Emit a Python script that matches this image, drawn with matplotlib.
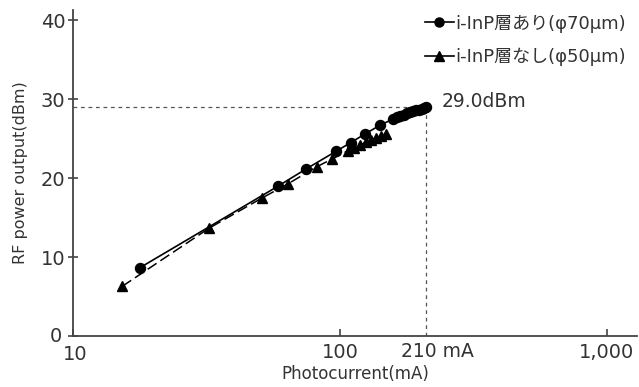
import matplotlib
matplotlib.use("Agg")
import matplotlib.pyplot as plt
import matplotlib.transforms as mtransforms
from matplotlib.lines import Line2D

plt.rcParams['font.family'] = ['DejaVu Sans', 'Noto Sans CJK JP']

# Data
with_x = [17.8, 58.4, 74.9, 96.6, 109.6, 124, 141, 158, 163, 168, 173, 178, 183, 188, 193, 198, 203, 207, 210]
with_y = [8.65, 18.96, 21.2, 23.4, 24.5, 25.6, 26.7, 27.5, 27.7, 27.9, 28.05, 28.2, 28.35, 28.5, 28.6, 28.7, 28.8, 28.9, 29.0]
without_x = [15.3, 32.3, 51.1, 64, 81.8, 93.1, 107.4, 113, 119, 125, 131, 137, 143, 149]
without_y = [6.3, 13.65, 17.5, 19.3, 21.45, 22.4, 23.5, 23.85, 24.2, 24.55, 24.85, 25.15, 25.4, 25.65]
label_with = "i-InP層あり(φ70μm)"
label_without = "i-InP層なし(φ50μm)"
peak_current = 210
peak_power = 29.0
x_ticks = [10, 100, 1000]
x_ticklabels = ["10", "100", "1,000"]
y_ticks = [0, 10, 20, 30, 40]

text_c = '#333333'
spine_c = '#444444'

fig = plt.figure(figsize=(6.39, 3.87), dpi=100)
ax = fig.add_axes([0.1142, 0.1318, 0.8826, 0.842])

ax.plot(with_x, with_y, color='black', lw=1.2, marker='o', ms=7.2, zorder=3)
ax.plot(without_x, without_y, color='black', lw=1.1, ls=(0, (7, 3)), marker='^', ms=7, zorder=3)

ax.plot([10, peak_current], [peak_power, peak_power], color='#555555', lw=0.9, ls=(0, (3, 3)), zorder=1)
ax.plot([peak_current, peak_current], [0, peak_power], color='#555555', lw=0.9, ls=(0, (3, 3)), zorder=1)

ax.set_xscale('log')
ax.set_xlim(10, 1295)
ax.set_ylim(0, 41.3)
ax.set_xticks(x_ticks)
ax.set_xticklabels(x_ticklabels)
ax.xaxis.set_minor_locator(matplotlib.ticker.NullLocator())
ax.set_yticks(y_ticks)
ax.tick_params(axis='x', direction='in', length=5, width=1.2, color=spine_c, labelsize=14, labelcolor=text_c, pad=5)
ax.tick_params(axis='y', direction='inout', length=7, width=1.2, color=spine_c, labelsize=14, labelcolor=text_c, pad=2)

fig.canvas.draw()
xl = ax.get_xticklabels()
xl[0].set_transform(xl[0].get_transform() + mtransforms.ScaledTranslation(2 / 100, -2 / 100, fig.dpi_scale_trans))
yl = ax.get_yticklabels()
yl[0].set_transform(yl[0].get_transform() + mtransforms.ScaledTranslation(-3 / 100, 1 / 100, fig.dpi_scale_trans))

for s in ['top', 'right']:
    ax.spines[s].set_visible(False)
for s in ['left', 'bottom']:
    ax.spines[s].set_color(spine_c)
    ax.spines[s].set_linewidth(1.3)

ax.set_xlabel("Photocurrent(mA)", fontsize=12, color=text_c, labelpad=1)
ax.set_ylabel("RF power output(dBm)", fontsize=11.5, color=text_c, labelpad=9)

ax.annotate(f"{peak_power:.1f}dBm", xy=(peak_current, peak_power), xytext=(11, 4), textcoords='offset points',
            fontsize=13.5, color=text_c, va='center', ha='left')
ax.annotate(f"{peak_current} mA", xy=(peak_current, 0), xytext=(8, -11), textcoords='offset points',
            ha='center', va='center', fontsize=13.5, color=text_c)

handles = [Line2D([], [], color='black', lw=1.2, marker='o', ms=6.5),
           Line2D([], [], color='black', lw=1.2, marker='^', ms=6.5)]
leg = ax.legend(handles, [label_with, label_without], loc='upper right', bbox_to_anchor=(1.0, 1.02),
                frameon=False, fontsize=13, handlelength=1.6, handletextpad=0.1, labelspacing=0.85,
                borderaxespad=0.2)
for t in leg.get_texts():
    t.set_color(text_c)

fig.savefig("out.png", dpi=100)
